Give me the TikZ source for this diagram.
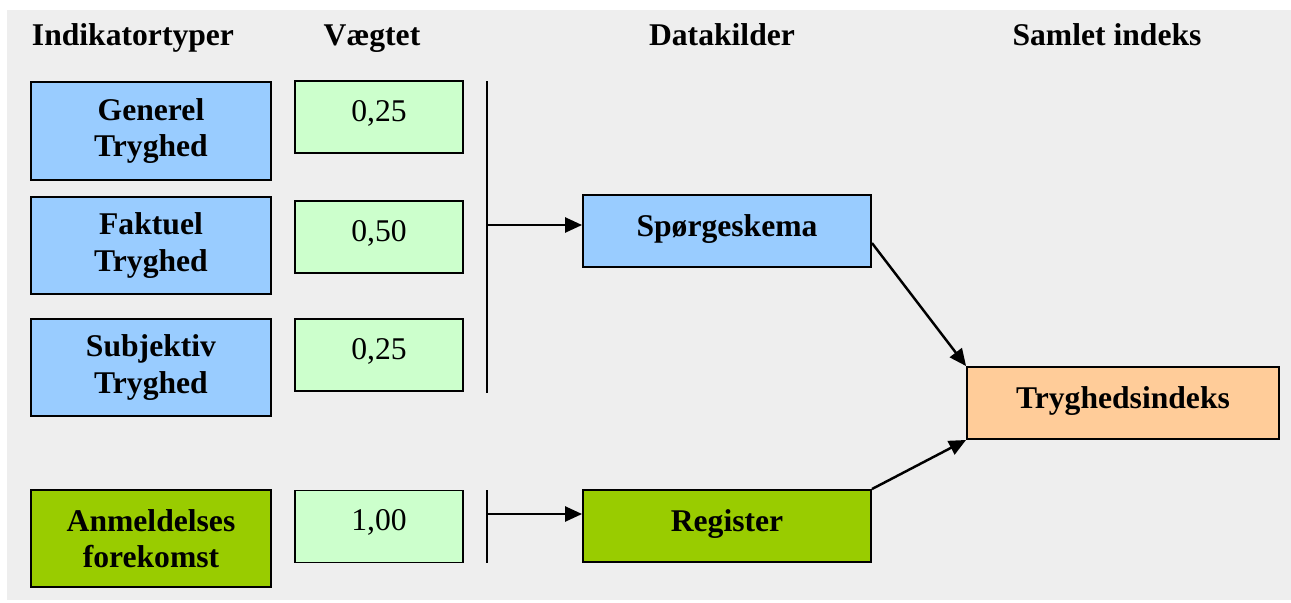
\documentclass[tikz,border=0pt]{standalone}
\usepackage{fontspec}
\setmainfont{Liberation Serif}
\usetikzlibrary{arrows.meta,calc}
\definecolor{skyblue}{HTML}{99CCFF}
\definecolor{palegreen}{HTML}{CCFFCC}
\definecolor{leafgreen}{HTML}{99CC00}
\definecolor{peach}{HTML}{FFCC99}
\definecolor{panel}{HTML}{EEEEEE}

\begin{document}
\begin{tikzpicture}[x=0.02cm,y=-0.02cm]
\tikzstyle{ind}=[draw=black,line width=1.1pt,minimum width=4.8cm,minimum height=1.95cm,inner sep=0pt,align=center,font=\fontsize{18}{20.8}\selectfont\bfseries]
\tikzstyle{weight}=[draw=black,line width=1.1pt,fill=palegreen,minimum width=3.36cm,text height=0.8cm,text depth=0.64cm,inner ysep=0pt,font=\fontsize{18}{20.8}\selectfont]
\tikzstyle{src}=[draw=black,line width=1.1pt,minimum width=5.76cm,text height=0.82cm,text depth=0.62cm,inner ysep=0pt,font=\fontsize{18}{20.8}\selectfont\bfseries]
\tikzstyle{head}=[anchor=base,font=\fontsize{18}{20.8}\selectfont\bfseries]
\tikzstyle{arr}=[line width=1.4pt,-{Triangle[length=0.34cm,width=0.3cm]}]
\useasboundingbox (0,0) rectangle (1291,602);
\fill[panel] (7,10) rectangle (1291,600);
% column heads
\node[head] (h1) at (133,45) {Indikatortyper};
\node[head] (h2) at (372,45) {Vægtet};
\node[head] (h3) at (722,45) {Datakilder};
\node[head] (h4) at (1107,45) {Samlet indeks};
% indicators and weights
\foreach \name/\point/\txt/\col in {
	1/{151,131}/{Generel\\Tryghed}/skyblue,
	2/{151,245.5}/{Faktuel\\Tryghed}/skyblue,
	3/{151,367.5}/{Subjektiv\\Tryghed}/skyblue,
	4/{151,538.5}/{Anmeldelses\\forekomst}/leafgreen}
	\node[ind,fill=\col] (ind\name) at (\point) {\txt};
\foreach \name/\point/\val in {
	1/{379,117}/{0,25},
	2/{379,237}/{0,50},
	3/{379,355}/{0,25},
	4/{379,526.5}/{1,00}}
	\node[weight] (w\name) at (\point) {\val};
% sources and index
\node[src,fill=skyblue] (spg) at (727,231) {Spørgeskema};
\node[src,fill=leafgreen] (reg) at (727,526) {Register};
\node[src,fill=peach,minimum width=6.24cm] (tryg) at (1123,403) {Tryghedsindeks};
\coordinate (bar1top) at (487,81);
\coordinate (bar1bot) at (487,393);
\coordinate (bar1mid) at (487,225);
\coordinate (bar2top) at (487,490);
\coordinate (bar2bot) at (487,563);
\coordinate (bar2mid) at (487,514);
\draw[line width=1.1pt] (bar1top) -- (bar1bot);
\draw[line width=1.1pt] (bar2top) -- (bar2bot);
\draw[arr] (bar1mid) -- (bar1mid -| spg.west);
\draw[arr] (bar2mid) -- (bar2mid -| reg.west);
\draw[arr] ($(spg.east)+(0,12)$) -- (tryg.north west);
\draw[arr] (reg.north east) -- (tryg.south west);
\end{tikzpicture}
\end{document}
